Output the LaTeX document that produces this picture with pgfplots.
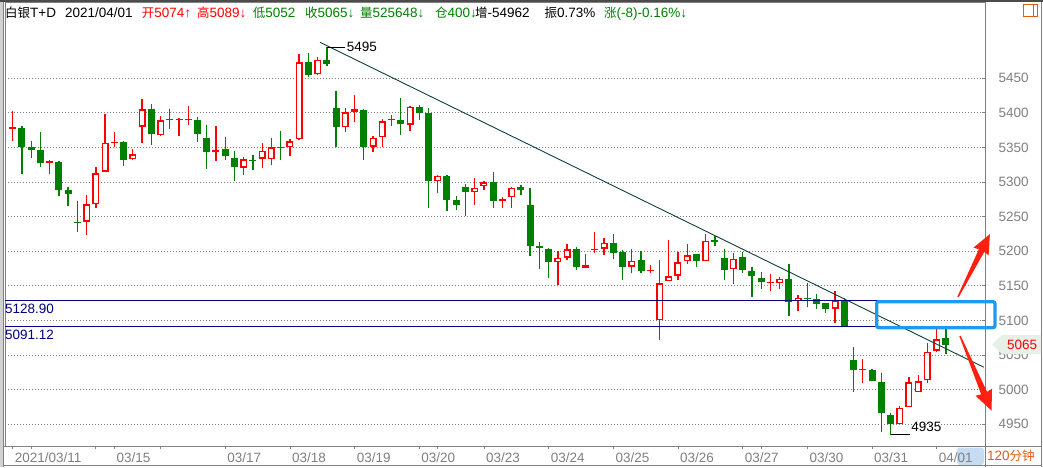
\documentclass[border=0pt]{standalone}
\usepackage{pgfplots}
\pgfplotsset{compat=1.18}
\usepackage{pgfplotstable}
\usepackage{fontspec}
\setmainfont{Liberation Sans}
\newfontfamily\cjk{Noto Sans CJK SC}
\definecolor{cRed}{RGB}{255,0,0}
\definecolor{cGreen}{RGB}{0,128,0}
\definecolor{cNavy}{RGB}{0,0,128}
\definecolor{cTrend}{RGB}{16,64,64}
\definecolor{cBlue}{RGB}{30,155,240}
\definecolor{cArrow}{RGB}{255,32,16}
\definecolor{cGray}{RGB}{128,128,128}
\definecolor{cOrange}{RGB}{230,90,20}
\definecolor{cHi}{RGB}{198,220,242}
\definecolor{cTag}{RGB}{230,240,230}
\newcommand\lf{\fontsize{13.5}{14}\selectfont}
\newcommand\zh[1]{{\cjk\fontsize{12.5}{14}\selectfont #1}}

\pgfplotstableread{
i o h l c
0 5377 5403 5360 5379
4 5328 5332 5312 5330
8 5243 5281 5223 5268
9 5268 5322 5262 5313
10 5315 5399 5314 5357
11 5356 5372 5351 5358
13 5333 5348 5332 5340
14 5380 5420 5357 5405
16 5368 5395 5367 5389
18 5389 5392 5367 5391
19 5389 5410 5383 5391
22 5343 5381 5331 5347
25 5321 5336 5310 5333
27 5334 5356 5321 5345
28 5333 5364 5324 5350
30 5350 5362 5337 5359
31 5362 5485 5361 5473
33 5456 5481 5455 5477
36 5379 5407 5372 5401
37 5402 5426 5387 5406
39 5351 5367 5343 5364
40 5365 5391 5351 5388
41 5389 5397 5381 5391
43 5383 5410 5374 5409
46 5301 5310 5284 5309
50 5285 5306 5267 5292
51 5294 5302 5288 5300
53 5272 5278 5262 5275
54 5278 5293 5263 5292
59 5184 5200 5151 5191
60 5191 5211 5187 5203
62 5176 5196 5176 5180
63 5202 5228 5197 5204
64 5204 5219 5195 5212
67 5178 5203 5168 5186
69 5171 5180 5168 5173
70 5100 5187 5072 5154
71 5157 5216 5157 5164
72 5165 5199 5159 5184
73 5186 5211 5182 5194
75 5186 5225 5186 5215
78 5174 5197 5152 5189
82 5154 5167 5142 5156
83 5154 5163 5146 5160
85 5128 5137 5113 5133
89 5117 5143 5096 5129
92 5028 5044 5009 5030
96 4950 4976 4950 4974
97 4975 5018 4975 5011
98 4996 5021 4996 5012
99 5014 5067 5009 5055
100 5056 5092 5054 5073
}\upT

\pgfplotstableread{
i o h l c
1 5378 5381 5312 5351
2 5350 5359 5335 5347
3 5347 5372 5322 5327
5 5329 5331 5280 5288
6 5288 5293 5266 5283
7 5243 5272 5228 5241
12 5358 5359 5323 5332
15 5406 5413 5354 5369
17 5391 5406 5377 5389
20 5390 5394 5358 5369
21 5364 5383 5319 5343
23 5348 5365 5332 5337
24 5335 5345 5302 5322
26 5332 5339 5318 5330
29 5351 5374 5332 5349
32 5473 5486 5452 5455
34 5477 5495 5468 5471
35 5407 5432 5351 5379
38 5404 5405 5332 5351
42 5390 5421 5368 5384
44 5409 5411 5390 5400
45 5400 5407 5263 5302
47 5309 5310 5258 5274
48 5274 5280 5260 5267
49 5293 5297 5251 5285
52 5300 5315 5263 5272
55 5293 5296 5282 5289
56 5267 5291 5193 5207
57 5207 5214 5174 5205
58 5204 5205 5162 5184
61 5203 5206 5173 5178
65 5212 5225 5189 5198
66 5199 5202 5158 5178
68 5187 5200 5169 5171
74 5196 5196 5177 5186
76 5216 5222 5207 5214
77 5190 5203 5159 5173
79 5192 5199 5168 5173
80 5172 5178 5134 5164
81 5161 5170 5145 5155
84 5160 5182 5107 5127
86 5133 5154 5119 5131
87 5131 5138 5116 5124
88 5125 5125 5111 5117
90 5129 5132 5091 5091
91 5043 5062 4997 5028
93 5028 5030 5012 5012
94 5011 5024 4939 4966
95 4964 4967 4935 4950
101 5074 5089 5052 5065
}\downT

\begin{document}
\begin{tikzpicture}
\path[use as bounding box, fill=white] (0pt,0pt) rectangle (1043pt,467pt);
% background pieces in pixel coordinates (y down)
\begin{scope}[x=1pt, y=-1pt, yshift=467pt]
  \fill[cHi] (957,447.5) [rounded corners=3pt] rectangle (984,465);
\end{scope}

\begin{axis}[
  at={(5pt,21pt)}, anchor=south west,
  scale only axis, width=980pt, height=443pt,
  xmin=-0.833, xmax=105.227, ymin=4918.6, ymax=5558.8,
  clip=false,
  axis line style={cGray, line width=1pt},
  ytick={4950,5000,...,5450},
  ytick pos=right, yticklabel pos=right,
  ytick align=inside, xtick align=outside,
  major tick length=3pt,
  tick style={cGray, line width=0.8pt},
  yticklabel style={font=\lf, text=cGray, xshift=10pt},
  /pgf/number format/1000 sep={},
  /pgf/number format/assume math mode=true,
  xtick={0,2,9,11,16,23,30,37,44,46,51,58,65,72,79,81,86,93,100},
  xticklabels={2021/03/11,,,03/15,,03/17,03/18,03/19,03/20,,03/23,03/24,03/25,03/26,03/27,,03/30,03/31,04/01},
  xtick pos=bottom,
  xticklabel style={font=\lf, text=cGray, anchor=west, inner sep=1pt, xshift=1pt, yshift=-8.5pt},
  ymajorgrids=true,
  major grid style={cGray, line width=0.8pt, dash pattern=on 0.8pt off 2.2pt},
]
% wicks
\addplot[draw=none, mark=none, forget plot, error bars/.cd, y dir=plus, y explicit, error mark=none,
  error bar style={line width=1.3pt, draw=cGreen}]
  table[x=i, y=l, y error plus expr={\thisrow{h}-\thisrow{l}}] {\downT};
\addplot[draw=none, mark=none, forget plot, error bars/.cd, y dir=plus, y explicit, error mark=none,
  error bar style={line width=1.3pt, draw=cRed}]
  table[x=i, y=l, y error plus expr={\thisrow{h}-\thisrow{l}}] {\upT};
% green bodies
\addplot[draw=none, mark=none, forget plot, error bars/.cd, y dir=plus, y explicit, error mark=none,
  error bar style={line width=7pt, draw=cGreen}]
  table[x=i, y=c, y error plus expr={\thisrow{o}-\thisrow{c}}] {\downT};
% red bodies (hollow)
\addplot[draw=none, mark=none, forget plot, error bars/.cd, y dir=plus, y explicit, error mark=none,
  error bar style={line width=7pt, draw=cRed}]
  table[x=i, y=o, y error plus expr={\thisrow{c}-\thisrow{o}}] {\upT};
\addplot[draw=none, mark=none, forget plot, error bars/.cd, y dir=plus, y explicit, error mark=none,
  error bar style={line width=4pt, draw=white}]
  table[x=i, y expr={\thisrow{o}+2.1}, y error plus expr={max(\thisrow{c}-\thisrow{o}-4.2,0)}] {\upT};
% trend line
\addplot[cTrend, line width=0.9pt, forget plot] coordinates {(33.26,5502) (105.1,5032.4)};
% horizontal levels
\addplot[cNavy, line width=1.2pt, forget plot] coordinates {(-0.833,5128.9) (105.227,5128.9)};
\addplot[cNavy, line width=1.2pt, forget plot] coordinates {(-0.833,5091.12) (105.227,5091.12)};
% extreme labels
\draw[black, line width=1pt] (axis cs:34,5495) -- (axis cs:35.96,5495) node[anchor=west, inner sep=1.5pt, font=\lf, text=black] {5495};
\draw[black, line width=1pt] (axis cs:95,4935) -- (axis cs:97.1,4935) node[anchor=base west, inner sep=1pt, yshift=3pt, font=\lf, text=black] {4935};
\end{axis}

\begin{scope}[x=1pt, y=-1pt, yshift=467pt]
  % frame
  \fill[black!70] (0,0) rectangle (1043,2);
  \fill[black!18] (0,2) rectangle (3,467);
  \draw[cGray, line width=1pt] (3.5,2) -- (3.5,467);
  \draw[cGray, line width=1pt] (985,2) -- (985,467);
  \draw[cGray, line width=1pt] (1041.5,2) -- (1041.5,467);
  \draw[cGray, line width=1pt] (3,446) -- (1041.5,446);
  \draw[cGray, line width=1pt] (3,465.5) -- (1041.5,465.5);
  % labels of levels
  \node[anchor=north west, inner sep=0pt, text=cNavy, font=\lf] at (5,303.5) {5128.90};
  \node[anchor=north west, inner sep=0pt, text=cNavy, font=\lf] at (5,329.8) {5091.12};
  % blue box
  \draw[cBlue, line width=3.3pt, rounded corners=2pt] (876.7,301.7) rectangle (995,327.7);
  % red arrows
  \begin{scope}[shift={(958,297)}, rotate=63.1]
    \fill[cArrow] (0,0.7) -- (52,3) -- (51,8.5) -- (70.5,0) -- (51,-8.5) -- (52,-3) -- (0,-0.7) -- cycle;
  \end{scope}
  \begin{scope}[shift={(960,336)}, rotate=-67.1]
    \fill[cArrow] (0,0.7) -- (62,3.2) -- (61,9) -- (81,0) -- (61,-9) -- (62,-3.2) -- (0,-0.7) -- cycle;
  \end{scope}
  % last price tag
  \fill[cTag] (992,344.5) -- (1002,335) -- (1041,335) -- (1041,354) -- (1002,354) -- cycle;
  \node[anchor=west, inner sep=0pt, text=cRed, font=\lf] at (1007,344.5) {5065};
  % bottom right period
  \node[anchor=west, inner sep=0pt, text=cOrange, font=\lf] at (987,455.5) {120\zh{分钟}};
  % top-right icon
  \draw[cOrange, line width=1pt] (1023,5) rectangle (1037,17);
  \draw[cOrange, line width=1pt] (1033,5) -- (1033,17);
  % header
  \node[anchor=base west, inner sep=0pt, font=\lf] at (5,17.3) {\zh{白银}T+D};
  \node[anchor=base west, inner sep=0pt, font=\lf] at (65,17.3) {2021/04/01};
  \node[anchor=base west, inner sep=0pt, font=\lf, text=cRed] at (141.7,17.3) {\zh{开}5074↑};
  \node[anchor=base west, inner sep=0pt, font=\lf, text=cRed] at (197,17.3) {\zh{高}5089↓};
  \node[anchor=base west, inner sep=0pt, font=\lf, text=cGreen] at (252.7,17.3) {\zh{低}5052};
  \node[anchor=base west, inner sep=0pt, font=\lf, text=cGreen] at (305,17.3) {\zh{收}5065↓};
  \node[anchor=base west, inner sep=0pt, font=\lf, text=cGreen] at (360,17.3) {\zh{量}525648↓};
  \node[anchor=base west, inner sep=0pt, font=\lf, text=cGreen] at (435,17.3) {\zh{仓}400↓};
  \node[anchor=base west, inner sep=0pt, font=\lf] at (475,17.3) {\zh{增}-54962};
  \node[anchor=base west, inner sep=0pt, font=\lf] at (544.4,17.3) {\zh{振}0.73\%};
  \node[anchor=base west, inner sep=0pt, font=\lf, text=cGreen] at (604,17.3) {\zh{涨}(-8)-0.16\%↓};
\end{scope}
\end{tikzpicture}
\end{document}
